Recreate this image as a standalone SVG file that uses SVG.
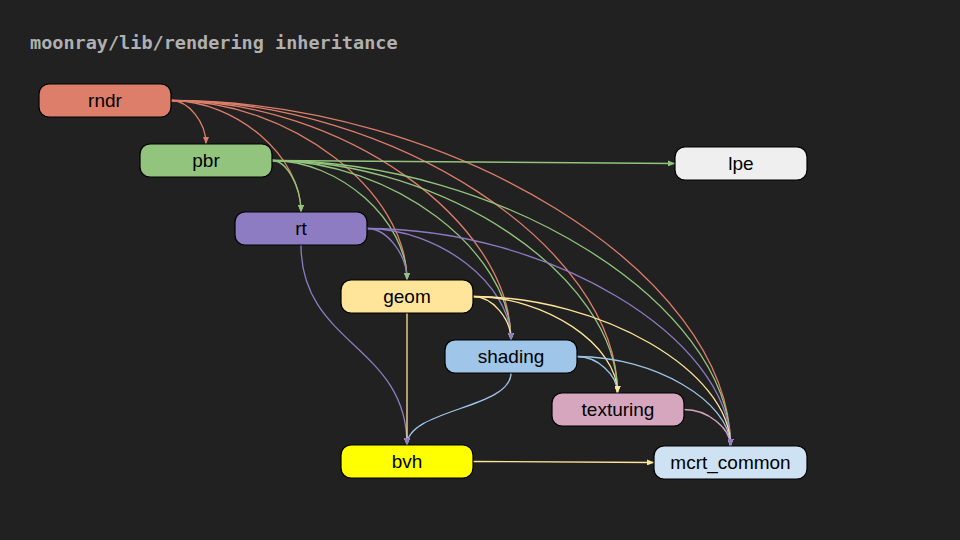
<svg xmlns="http://www.w3.org/2000/svg" width="960" height="540" viewBox="0 0 960 540">
<style>
.bg{fill:#212121}
.title{font-family:"DejaVu Sans Mono","Liberation Mono",monospace;font-weight:bold;font-size:18.5px;fill:#b0b0b0}
.box{stroke:#000;stroke-width:1.2}
.lbl{font-family:"Liberation Sans",Arial,sans-serif;font-size:19px;fill:#000;text-anchor:middle}
.e{fill:none;stroke-width:1.3}
.c-rndr{stroke:#dd7e6b}.c-pbr{stroke:#93c47d}.c-rt{stroke:#8e7cc3}.c-geom{stroke:#ffe599}
.c-shading{stroke:#9fc5e8}.c-texturing{stroke:#d5a6bd}.c-bvh{stroke:#ffff00}
</style>
<defs>
<marker id="a-rndr" markerUnits="userSpaceOnUse" markerWidth="7" markerHeight="6" refX="7" refY="3" orient="auto"><path d="M0,0L7,3L0,6z" fill="#dd7e6b"/></marker>
<marker id="a-pbr" markerUnits="userSpaceOnUse" markerWidth="7" markerHeight="6" refX="7" refY="3" orient="auto"><path d="M0,0L7,3L0,6z" fill="#93c47d"/></marker>
<marker id="a-rt" markerUnits="userSpaceOnUse" markerWidth="7" markerHeight="6" refX="7" refY="3" orient="auto"><path d="M0,0L7,3L0,6z" fill="#8e7cc3"/></marker>
<marker id="a-geom" markerUnits="userSpaceOnUse" markerWidth="7" markerHeight="6" refX="7" refY="3" orient="auto"><path d="M0,0L7,3L0,6z" fill="#ffe599"/></marker>
<marker id="a-shading" markerUnits="userSpaceOnUse" markerWidth="7" markerHeight="6" refX="7" refY="3" orient="auto"><path d="M0,0L7,3L0,6z" fill="#9fc5e8"/></marker>
<marker id="a-texturing" markerUnits="userSpaceOnUse" markerWidth="7" markerHeight="6" refX="7" refY="3" orient="auto"><path d="M0,0L7,3L0,6z" fill="#d5a6bd"/></marker>
<marker id="a-bvh" markerUnits="userSpaceOnUse" markerWidth="7" markerHeight="6" refX="7" refY="3" orient="auto"><path d="M0,0L7,3L0,6z" fill="#ffe599"/></marker>
</defs>
<rect class="bg" x="0" y="0" width="960" height="540"/>
<text class="title" x="30" y="49">moonray/lib/rendering inheritance</text>

<g id="connectors">
<path class="e c-rndr" marker-end="url(#a-rndr)" d="M171,100.5C188.5,100.5 206,122.25 206,144"/>
<path class="e c-rndr" marker-end="url(#a-rndr)" d="M171,100.5C236,100.5 301,156.25 301,212"/>
<path class="e c-rndr" marker-end="url(#a-rndr)" d="M171,100.5C289,100.5 407,190.25 407,280"/>
<path class="e c-rndr" marker-end="url(#a-rndr)" d="M171,100.5C341,100.5 511,220.25 511,340"/>
<path class="e c-rndr" marker-end="url(#a-rndr)" d="M171,100.5C394.25,100.5 617.5,246.75 617.5,393"/>
<path class="e c-rndr" marker-end="url(#a-rndr)" d="M171,100.5C450.75,100.5 730.5,273.25 730.5,446"/>

<path class="e c-pbr" marker-end="url(#a-pbr)" d="M272,160.5L675,163.5"/>
<path class="e c-pbr" marker-end="url(#a-pbr)" d="M272,160.5C286.5,160.5 301,186.25 301,212"/>
<path class="e c-pbr" marker-end="url(#a-pbr)" d="M272,160.5C339.5,160.5 407,220.25 407,280"/>
<path class="e c-pbr" marker-end="url(#a-pbr)" d="M272,160.5C391.5,160.5 511,250.25 511,340"/>
<path class="e c-pbr" marker-end="url(#a-pbr)" d="M272,160.5C444.75,160.5 617.5,276.75 617.5,393"/>
<path class="e c-pbr" marker-end="url(#a-pbr)" d="M272,160.5C501.25,160.5 730.5,303.25 730.5,446"/>

<path class="e c-rt" marker-end="url(#a-rt)" d="M367,228.5C387,228.5 407,254.25 407,280"/>
<path class="e c-rt" marker-end="url(#a-rt)" d="M367,228.5C439,228.5 511,284.25 511,340"/>
<path class="e c-rt" marker-end="url(#a-rt)" d="M367,228.5C548.75,228.5 730.5,337.25 730.5,446"/>
<path class="e c-rt" marker-end="url(#a-rt)" d="M301,245C301,345 407,345 407,445"/>

<path class="e c-geom" marker-end="url(#a-geom)" d="M473,296.5C492,296.5 511,318.25 511,340"/>
<path class="e c-geom" marker-end="url(#a-geom)" d="M473,296.5C545.25,296.5 617.5,344.75 617.5,393"/>
<path class="e c-geom" marker-end="url(#a-geom)" d="M473,296.5C601.75,296.5 730.5,371.25 730.5,446"/>
<path class="e c-geom" marker-end="url(#a-geom)" d="M407,313L407,445"/>

<path class="e c-shading" marker-end="url(#a-shading)" d="M577,356.5C597.25,356.5 617.5,374.75 617.5,393"/>
<path class="e c-shading" marker-end="url(#a-shading)" d="M577,356.5C653.75,356.5 730.5,401.25 730.5,446"/>
<path class="e c-shading" marker-end="url(#a-shading)" d="M511,373C511,409 407,409 407,445"/>

<path class="e c-texturing" marker-end="url(#a-texturing)" d="M684,409.5C707.25,409.5 730.5,427.75 730.5,446"/>

<path class="e c-geom" marker-end="url(#a-bvh)" d="M473,461.5L654,462.5"/>

<path class="e c-pbr" marker-end="url(#a-pbr)" d="M301,208L301,212"/>
<path class="e c-pbr" marker-end="url(#a-pbr)" d="M407,276L407,280"/>
<path class="e c-rt" marker-end="url(#a-rt)" d="M511,336L511,340"/>
<path class="e c-geom" marker-end="url(#a-geom)" d="M617.5,389L617.5,393"/>
<path class="e c-rt" marker-end="url(#a-rt)" d="M730.5,442L730.5,446"/>
<path class="e c-rt" marker-end="url(#a-rt)" d="M407,441L407,445"/>
</g>

<g id="rndr"><rect class="box" x="39" y="84" width="132" height="33" rx="10" fill="#dd7e6b"/><text class="lbl" x="105" y="107">rndr</text></g>
<g id="pbr"><rect class="box" x="140" y="144" width="132" height="33" rx="10" fill="#93c47d"/><text class="lbl" x="206" y="167">pbr</text></g>
<g id="lpe"><rect class="box" x="675" y="147" width="132" height="33" rx="10" fill="#efefef"/><text class="lbl" x="741" y="170">lpe</text></g>
<g id="rt"><rect class="box" x="235" y="212" width="132" height="33" rx="10" fill="#8e7cc3"/><text class="lbl" x="301" y="235">rt</text></g>
<g id="geom"><rect class="box" x="341" y="280" width="132" height="33" rx="10" fill="#ffe599"/><text class="lbl" x="407" y="303">geom</text></g>
<g id="shading"><rect class="box" x="445" y="340" width="132" height="33" rx="10" fill="#9fc5e8"/><text class="lbl" x="511" y="363">shading</text></g>
<g id="texturing"><rect class="box" x="552" y="393" width="132" height="33" rx="10" fill="#d5a6bd"/><text class="lbl" x="618" y="416">texturing</text></g>
<g id="bvh"><rect class="box" x="341" y="445" width="132" height="33" rx="10" fill="#ffff00"/><text class="lbl" x="407" y="468">bvh</text></g>
<g id="mcrt_common"><rect class="box" x="654" y="446" width="153" height="33" rx="10" fill="#cfe2f3"/><text class="lbl" x="730.5" y="469">mcrt_common</text></g>
</svg>
